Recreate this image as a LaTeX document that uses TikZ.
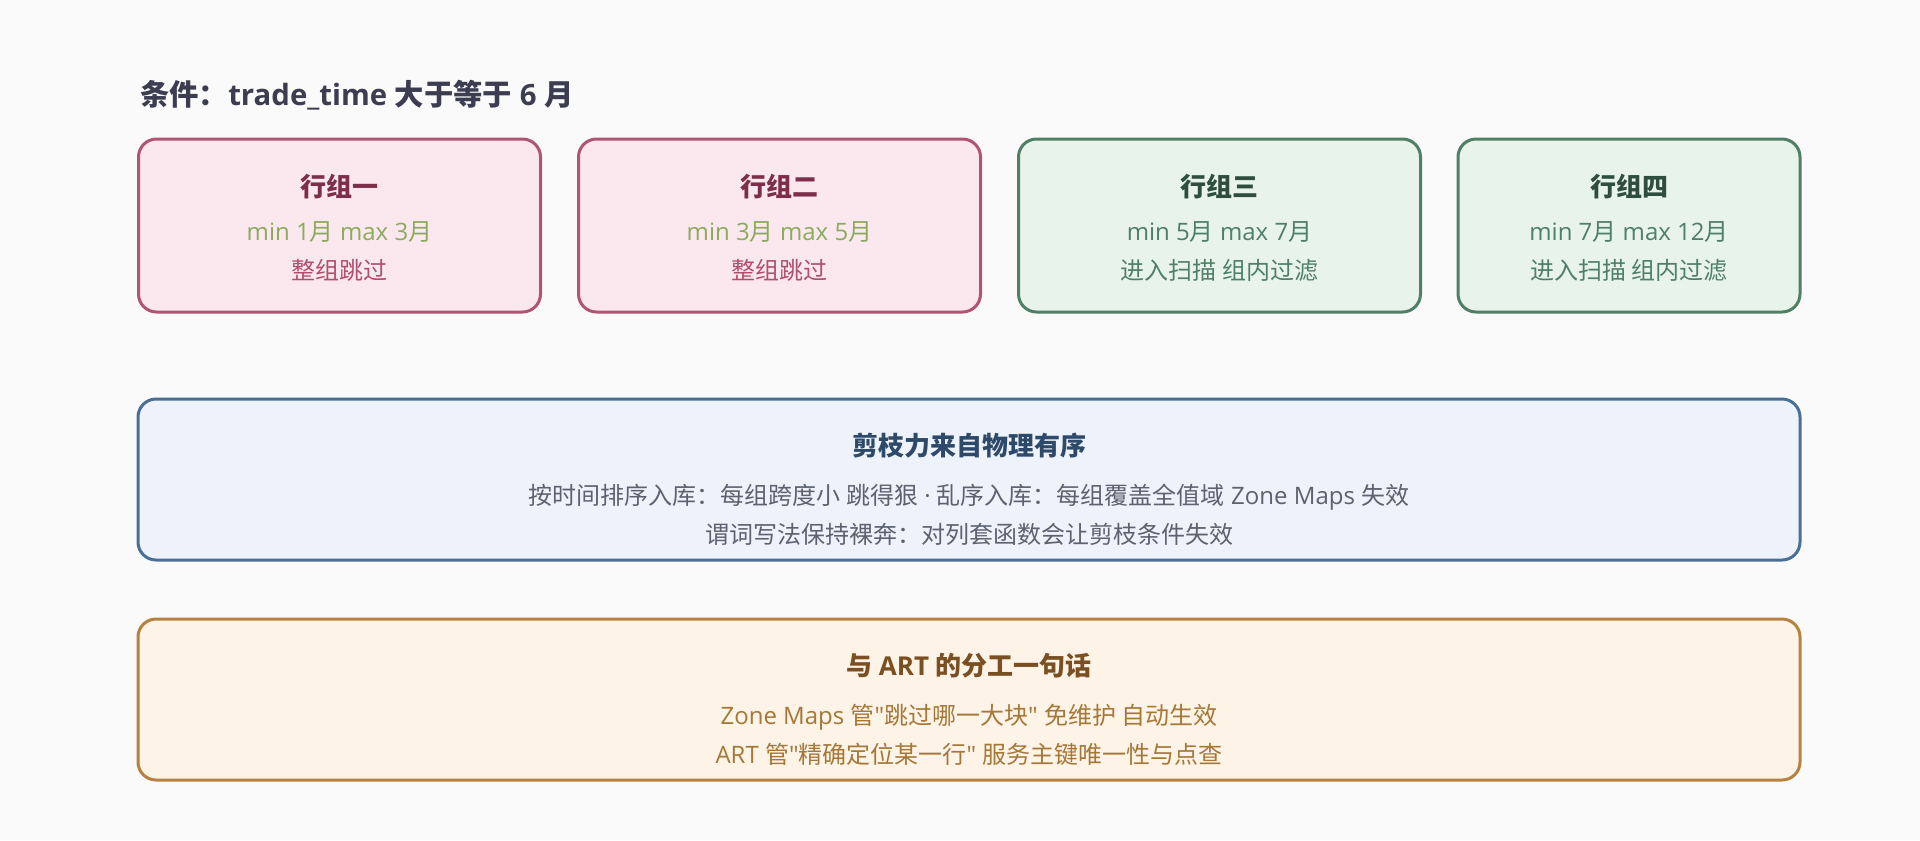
\documentclass[tikz,border=0pt]{standalone}
\usepackage{fontspec}
\setmainfont{Open Sans}[Ligatures=TeXReset]
\newfontfamily\cjk{Noto Sans CJK SC}[Ligatures=TeXReset]
\usepackage{tikz}
\usetikzlibrary{positioning, shapes, arrows.meta, calc}

\definecolor{bgcol}{HTML}{FAFAFA}
\definecolor{condcol}{HTML}{3C3D50}
\definecolor{pinkfill}{HTML}{FBE8EF}
\definecolor{pinkline}{HTML}{B05472}
\definecolor{pinkhead}{HTML}{7D2E4A}
\definecolor{pinkrange}{HTML}{8BAA5C}
\definecolor{pinknote}{HTML}{B0506E}
\definecolor{greenfill}{HTML}{E8F3EA}
\definecolor{greenline}{HTML}{4F7F65}
\definecolor{greenhead}{HTML}{2F4F3C}
\definecolor{bluefill}{HTML}{EEF2FA}
\definecolor{blueline}{HTML}{4A6F96}
\definecolor{bluehead}{HTML}{2E4A6B}
\definecolor{bluetext}{HTML}{5B6270}
\definecolor{orangefill}{HTML}{FDF3E7}
\definecolor{orangeline}{HTML}{B7813F}
\definecolor{orangehead}{HTML}{7A4F22}
\definecolor{orangetext}{HTML}{A67838}

\tikzset{
  panel/.style={rectangle, rounded corners=13.5pt, line width=2.25pt, inner sep=0pt},
  headtxt/.style={anchor=base, inner sep=0pt, font=\fontsize{19.5pt}{22pt}\selectfont\bfseries},
  bodytxt/.style={anchor=base, inner sep=0pt, font=\fontsize{18pt}{20pt}\selectfont}
}

\begin{document}
\begin{tikzpicture}[x=0.75pt, y=-0.75pt]
                  % Background
                  \fill[bgcol] (0,0) rectangle (1920,840);
                  \useasboundingbox (0,0) rectangle (1920,840);

                  % Condition
                  \node[anchor=base west, inner sep=0pt, text=condcol,
                        font=\fontsize{22pt}{25pt}\selectfont\bfseries] (cond) at (140,105)
                        {{\cjk 条件：}trade\_time {\cjk 大于等于} 6 {\cjk 月}};

                  % Row groups
                  \foreach \g/\cx/\w/\fc/\lc/\hc/\rc/\nc/\name/\lo/\hi/\note in {
                      1/339.5/402/pinkfill/pinkline/pinkhead/pinkrange/pinknote/行组一/1/3/整组跳过,
                      2/779.5/402/pinkfill/pinkline/pinkhead/pinkrange/pinknote/行组二/3/5/整组跳过,
                      3/1219.5/402/greenfill/greenline/greenhead/greenline/greenline/行组三/5/7/进入扫描 组内过滤,
                      4/1629/342/greenfill/greenline/greenhead/greenline/greenline/行组四/7/12/进入扫描 组内过滤}
                  {
                  \node[panel, fill=\fc, draw=\lc, minimum width=\w*0.75pt, minimum height=129.75pt] (grp\g) at (\cx,225.5) {};
                  \node[headtxt, text=\hc] (grphead\g) at (\cx,196) {\cjk\name};
                  \node[bodytxt, text=\rc] (grprange\g) at (\cx,240) {min \lo{\cjk 月} max \hi{\cjk 月}};
                  \node[bodytxt, text=\nc] (grpnote\g) at (\cx,279) {\cjk\note};
                  }

                  % Pruning panel
                  \node[panel, fill=bluefill, draw=blueline, minimum width=1246.5pt, minimum height=120.75pt] (prune) at (969,479.5) {};
                  \node[headtxt, text=bluehead] (prunehead) at (969,455) {\cjk 剪枝力来自物理有序};
                  \node[bodytxt, text=bluetext] (prunea) at (969,504)
                        {{\cjk 按时间排序入库：每组跨度小 跳得狠} · {\cjk 乱序入库：每组覆盖全值域} Zone Maps {\cjk 失效}};
                  \node[bodytxt, text=bluetext] (pruneb) at (969,543) {\cjk 谓词写法保持裸奔：对列套函数会让剪枝条件失效};

                  % ART panel
                  \node[panel, fill=orangefill, draw=orangeline, minimum width=1246.5pt, minimum height=120.75pt] (art) at (969,699.5) {};
                  \node[headtxt, text=orangehead] (arthead) at (969,675) {{\cjk 与} ART {\cjk 的分工一句话}};
                  \node[bodytxt, text=orangetext] (arta) at (969,724)
                        {Zone Maps {\cjk 管}"{\cjk 跳过哪一大块}" {\cjk 免维护 自动生效}};
                  \node[bodytxt, text=orangetext] (artb) at (969,763)
                        {ART {\cjk 管}"{\cjk 精确定位某一行}" {\cjk 服务主键唯一性与点查}};
              \end{tikzpicture}
\end{document}
